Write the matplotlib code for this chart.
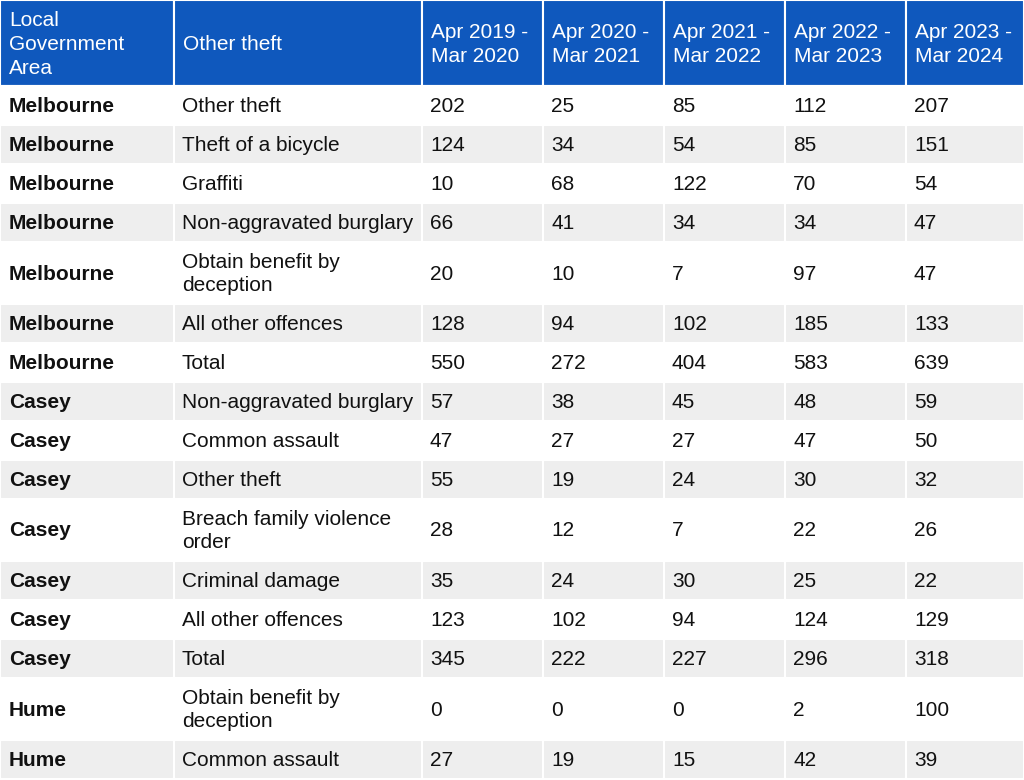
import matplotlib.pyplot as plt
from matplotlib.patches import Rectangle

plt.rcParams['font.family'] = ['Liberation Sans', 'DejaVu Sans']

headers = ['Local\nGovernment\nArea', 'Other theft', 'Apr 2019 -\nMar 2020', 'Apr 2020 -\nMar 2021',
           'Apr 2021 -\nMar 2022', 'Apr 2022 -\nMar 2023', 'Apr 2023 -\nMar 2024']

areas = ['Melbourne'] * 7 + ['Casey'] * 7 + ['Hume'] * 2
offences = ['Other theft', 'Theft of a bicycle', 'Graffiti', 'Non-aggravated burglary',
            'Obtain benefit by\ndeception', 'All other offences', 'Total',
            'Non-aggravated burglary', 'Common assault', 'Other theft',
            'Breach family violence\norder', 'Criminal damage', 'All other offences', 'Total',
            'Obtain benefit by\ndeception', 'Common assault']
y2019 = [202, 124, 10, 66, 20, 128, 550, 57, 47, 55, 28, 35, 123, 345, 0, 27]
y2020 = [25, 34, 68, 41, 10, 94, 272, 38, 27, 19, 12, 24, 102, 222, 0, 19]
y2021 = [85, 54, 122, 34, 7, 102, 404, 45, 27, 24, 7, 30, 94, 227, 0, 15]
y2022 = [112, 85, 70, 34, 97, 185, 583, 48, 47, 30, 22, 25, 124, 296, 2, 42]
y2023 = [207, 151, 54, 47, 47, 133, 639, 59, 50, 32, 26, 22, 129, 318, 100, 39]

col_edges = [0, 174, 422, 543, 664, 785, 906, 1024]
header_h = 86
line_h = 39
extra_h = 23
blue = '#0F58BD'
grey = '#EEEEEE'

fig = plt.figure(figsize=(10.24, 7.8), dpi=100)
ax = fig.add_axes([0, 0, 1, 1])
ax.set_xlim(0, 1024)
ax.set_ylim(780, 0)
ax.axis('off')

fs = 15

# header
for i, h in enumerate(headers):
    x0, x1 = col_edges[i], col_edges[i + 1]
    ax.add_patch(Rectangle((x0, 0), x1 - x0, header_h, facecolor=blue, edgecolor='white', lw=1.5))
    ax.text(x0 + 9, header_h / 2 + 1.5, h, color='white', fontsize=fs, va='center', ha='left',
            linespacing=1.34)

rows = list(zip(areas, offences, y2019, y2020, y2021, y2022, y2023))
y = header_h
for r, row in enumerate(rows):
    n_lines = max(str(v).count('\n') + 1 for v in row)
    h = line_h + (n_lines - 1) * extra_h
    bg = 'white' if r % 2 == 0 else grey
    for i, v in enumerate(row):
        x0, x1 = col_edges[i], col_edges[i + 1]
        ax.add_patch(Rectangle((x0, y), x1 - x0, h, facecolor=bg, edgecolor='white', lw=1.5))
        ax.text(x0 + 9 if i == 0 else x0 + 8, y + h / 2 + 1, str(v), color='#111111', fontsize=fs,
                va='center', ha='left', linespacing=1.3,
                fontweight='bold' if i == 0 else 'normal')
    y += h

fig.savefig('out.png', dpi=100)
